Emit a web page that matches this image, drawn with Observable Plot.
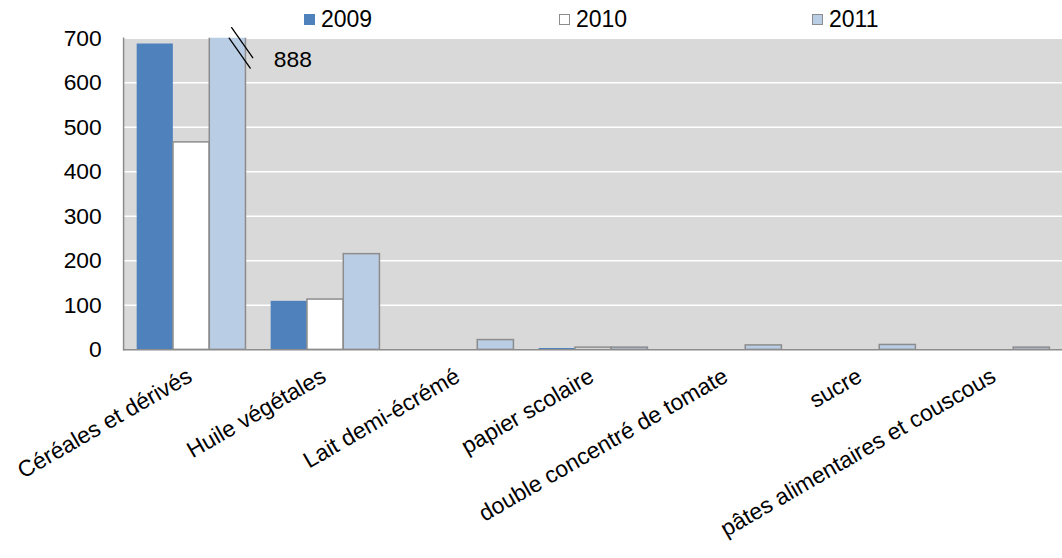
<!DOCTYPE html>
<html><head><meta charset="utf-8">
<script src="https://cdn.jsdelivr.net/npm/d3@7"></script>
<script src="https://cdn.jsdelivr.net/npm/@observablehq/plot@0.6"></script>
<style>
html,body{margin:0;padding:0;overflow:hidden;background:#fff;}
#wrap{position:relative;width:1062px;height:558px;overflow:hidden;font-family:"Liberation Sans",Arial,sans-serif;}
#legend{position:absolute;left:0;top:0;height:38px;width:1062px;}
.item{position:absolute;top:6px;display:flex;align-items:center;font-size:23px;color:#000;line-height:26px;white-space:nowrap;}
.sw{width:11px;height:11px;margin-right:6px;box-sizing:border-box;}
</style></head><body><div id="wrap"><div id="chart"></div><div id="legend"></div></div>
<script>
const categories = ["Céréales et dérivés","Huile végétales","Lait demi-écrémé","papier scolaire","double concentré de tomate","sucre","pâtes alimentaires et couscous"];
const years = ["2009","2010","2011"];
const v2009 = [687, 109, 0, 3, 0, 0, 0];
const v2010 = [466, 113, 0, 5, 0, 0, 0];
const v2011 = [888, 215, 22, 5, 10, 11, 5];
const yTicks = [0, 100, 200, 300, 400, 500, 600, 700];
const colors = ["#4f81bd", "#ffffff", "#b9cde5"];
const strokes = [null, "#8c8c8c", "#8c8c8c"];
const legendLeft = [304, 559, 812];

const series = [v2009, v2010, v2011];
const W = 1070, H = 558, mL = 124, mR = 0, mT = 38, mB = 206;
const step = (W - mL - mR) / categories.length;
const gapFrac = 0.188;
const g = step * gapFrac / 2;
const barW = step * (1 - gapFrac) / 3;
const rows = k => categories.map((c, i) => ({category: c, value: series[k][i]})).filter(d => d.value > 0);

const breakCat = categories[0];
const slashes = [{category: breakCat, dx: 51, dy: 4.5}, {category: breakCat, dx: 48.5, dy: 15}];
const breakLabel = [{category: breakCat, label: String(v2011[0])}];

const slashShape = {draw(ctx, l) { ctx.moveTo(0, 0); ctx.lineTo(0, -l); }};

const chart = Plot.plot({
  width: W, height: H, marginLeft: mL, marginRight: mR, marginTop: mT, marginBottom: mB,
  style: {fontFamily: "'Liberation Sans', Arial, sans-serif", fontSize: "23px", color: "#000", background: "transparent", overflow: "visible"},
  x: {domain: categories, padding: 0, label: null},
  y: {domain: [0, 700], label: null},
  marks: [
    Plot.frame({fill: "#d9d9d9", stroke: null}),
    Plot.gridY(yTicks, {stroke: "#ffffff", strokeOpacity: 1, strokeWidth: 1.5}),
    ...years.map((yr, k) => Plot.barY(rows(k), {
      x: "category", y: "value", fill: colors[k],
      stroke: strokes[k], strokeWidth: 1.5,
      insetLeft: g + k * barW, insetRight: step - g - (k + 1) * barW,
      clip: true
    })),
    Plot.ruleY([0], {stroke: "#8c8c8c", strokeWidth: 1.5}),
    Plot.frame({anchor: "left", stroke: "#8c8c8c", strokeWidth: 1.5}),
    Plot.axisY(yTicks, {tickSize: 0, tickPadding: 22, fontSize: 23, fill: "#000", label: null}),
    Plot.axisX({tickSize: 0, tickPadding: 31, tickRotate: -30, textAnchor: "end", lineAnchor: "bottom", dx: 2, fontSize: 23, fill: "#000", label: null}),
    ...slashes.map(s => Plot.vector([s], {x: "category", frameAnchor: "top", dx: s.dx, dy: s.dy, length: 37, rotate: -35, anchor: "middle", shape: slashShape, stroke: "#000", strokeWidth: 1.3})),
    Plot.text(breakLabel, {x: "category", text: "label", frameAnchor: "top", dx: 102, dy: 22, lineAnchor: "middle", fontSize: 23, fill: "#000"})
  ]
});
document.getElementById("chart").appendChild(chart);

const legend = document.getElementById("legend");
years.forEach((yr, k) => {
  const item = document.createElement("div");
  item.className = "item";
  item.style.left = legendLeft[k] + "px";
  const sw = document.createElement("span");
  sw.className = "sw";
  sw.style.background = colors[k];
  if (strokes[k]) sw.style.border = "1.5px solid " + strokes[k];
  const t = document.createElement("span");
  t.textContent = yr;
  item.appendChild(sw); item.appendChild(t);
  legend.appendChild(item);
});
</script></body></html>
